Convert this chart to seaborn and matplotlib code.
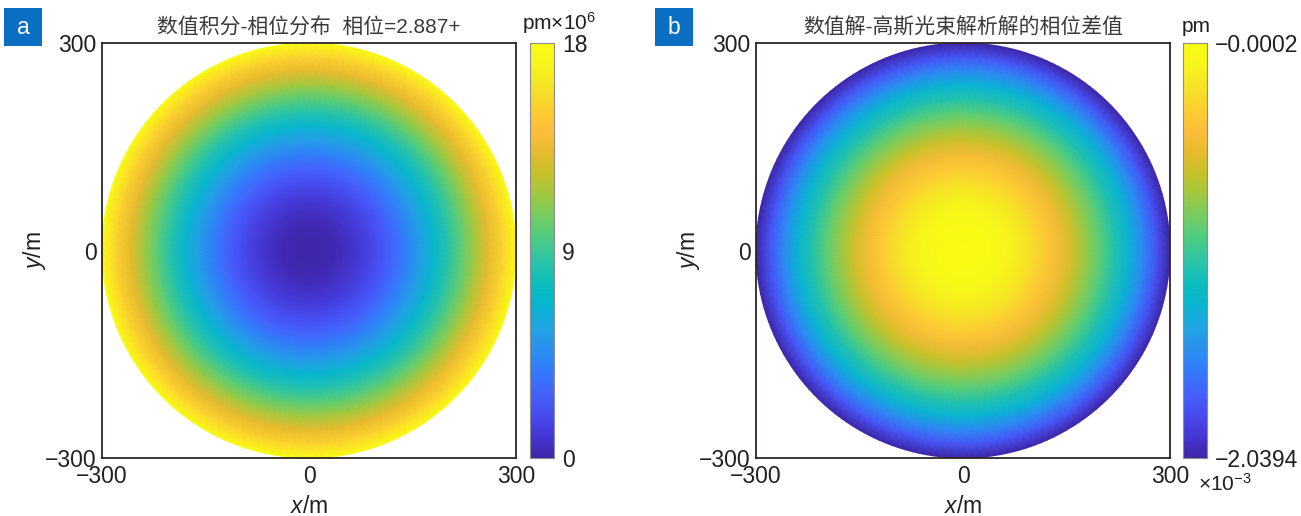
import numpy as np
import matplotlib
matplotlib.use("Agg")
import matplotlib.pyplot as plt
import seaborn as sns
from matplotlib.patches import Rectangle

# ring radii (m) and phase values
ring_radius = [0, 20, 40, 60, 80, 100, 120, 140, 160, 180, 200, 220, 240, 260, 280, 300]
phase_a = [0, 0.1, 0.33, 0.75, 1.3, 2.05, 2.95, 4.05, 5.35, 6.8, 8.3, 9.85,
           11.5, 13.3, 15.3, 18]                                        # pm x 1e6
phase_diff_b = [-0.0002, -0.010, -0.037, -0.092, -0.163, -0.255, -0.367, -0.490,
                -0.632, -0.785, -0.938, -1.112, -1.305, -1.540, -1.785, -2.0394]  # pm x 1e-3

axis_ticks = [-300, 0, 300]
cbar_ticks_a = [0, 9, 18]
cbar_labels_a = ["0", "9", "18"]
cbar_ticks_b = [-2.0394, -0.0002]
cbar_labels_b = ["\u22122.0394", "\u22120.0002"]
title_a = "数值积分-相位分布  相位=2.887+"
title_b = "数值解-高斯光束解析解的相位差值"

# parula-like colour anchors
parula_anchors = [
    (0.2422, 0.1504, 0.6603), (0.2706, 0.2147, 0.8364), (0.2813, 0.3006, 0.9414),
    (0.2699, 0.3892, 0.9906), (0.1963, 0.4847, 0.9892), (0.1687, 0.5703, 0.9359),
    (0.1248, 0.6459, 0.8883), (0.0297, 0.7082, 0.8163), (0.0433, 0.7411, 0.7394),
    (0.1717, 0.7670, 0.6554), (0.2906, 0.7973, 0.5188), (0.4456, 0.8024, 0.3909),
    (0.6174, 0.7876, 0.2612), (0.7738, 0.7598, 0.1646), (0.9035, 0.7330, 0.1774),
    (0.9956, 0.7434, 0.2371), (0.9892, 0.8136, 0.1885), (0.9610, 0.8890, 0.1537),
    (0.9691, 0.9606, 0.1064), (0.9769, 0.9839, 0.0805),
]

sns.set_theme(style="white")
parula = sns.blend_palette(parula_anchors, n_colors=256, as_cmap=True)

latin = ["Liberation Sans Narrow", "Liberation Sans", "DejaVu Sans"]
plt.rcParams["font.family"] = latin + ["Noto Sans CJK SC"]
plt.rcParams["mathtext.fontset"] = "custom"
plt.rcParams["mathtext.rm"] = "Liberation Sans"
plt.rcParams["mathtext.it"] = "Liberation Sans:italic"
plt.rcParams["axes.unicode_minus"] = True

W, H = 1301, 516
fig = plt.figure(figsize=(W / 100, H / 100), dpi=100)
fig.patch.set_facecolor("white")

text_color = "#231f20"
fs = 16.5


def px(x0, y0, w, h):
    return [x0 / W, 1 - (y0 + h) / H, w / W, h / H]


def draw_disk(ax, radius, values, vmin, vmax):
    theta = np.linspace(0, 2 * np.pi, 181)
    rr, tt = np.meshgrid(radius, theta)
    cc = np.tile(values, (len(theta), 1))
    return ax.pcolormesh(rr * np.cos(tt), rr * np.sin(tt), cc, shading="gouraud",
                         cmap=parula, vmin=vmin, vmax=vmax)


def style_axes(ax, title):
    ax.set_xlim(-300, 300)
    ax.set_ylim(-300, 300)
    ax.set_xticks(axis_ticks)
    ax.set_yticks(axis_ticks)
    ax.tick_params(length=0, labelsize=fs, colors=text_color, pad=4)
    ax.tick_params(axis="x", pad=5)
    for s in ax.spines.values():
        s.set_color("#2b2523")
        s.set_linewidth(1.3)
        s.set_visible(True)
    ax.set_xlabel("$x$/m", fontsize=fs, color=text_color, labelpad=5)
    ax.set_ylabel("$y$/m", fontsize=fs, color=text_color, labelpad=-2)
    ax.set_title(title, fontsize=15, color="#3a3a3a", pad=7)
    ax.set_facecolor("white")


def style_cbar(cax, mesh, ticks, labels):
    cb = fig.colorbar(mesh, cax=cax)
    cb.set_ticks(ticks)
    cb.set_ticklabels(labels)
    cax.tick_params(direction="in", length=3, width=0.8, labelsize=fs,
                    colors=text_color, pad=6)
    cb.outline.set_edgecolor("#8c8c8c")
    cb.outline.set_linewidth(0.8)
    return cb


# panel a
ax_a = fig.add_axes(px(102, 43, 414, 415))
mesh_a = draw_disk(ax_a, ring_radius, phase_a, 0, 18)
style_axes(ax_a, title_a)
cax_a = fig.add_axes(px(530, 43, 24, 415))
style_cbar(cax_a, mesh_a, cbar_ticks_a, cbar_labels_a)
fig.text(522 / W, 1 - 23 / H, "pm\u00d710$^{6}$", fontsize=15, color=text_color,
         ha="left", va="center")

# panel b
ax_b = fig.add_axes(px(756, 43, 414, 415))
mesh_b = draw_disk(ax_b, ring_radius, phase_diff_b, -2.0394, -0.0002)
style_axes(ax_b, title_b)
cax_b = fig.add_axes(px(1183, 43, 24, 415))
style_cbar(cax_b, mesh_b, cbar_ticks_b, cbar_labels_b)
fig.text(1196 / W, 1 - 26 / H, "pm", fontsize=15, color=text_color,
         ha="center", va="center")
fig.text(1198 / W, 1 - 484 / H, "\u00d710$^{\u22123}$", fontsize=15, color=text_color,
         ha="left", va="center")

# panel letters
for x0, letter in [(4, "a"), (655, "b")]:
    fig.patches.append(Rectangle((x0 / W, 1 - 46 / H), 38 / W, 38 / H,
                                 transform=fig.transFigure, facecolor="#0a6fc2",
                                 edgecolor="none"))
    fig.text((x0 + 19) / W, 1 - 27 / H, letter, fontsize=fs, color="white",
             ha="center", va="center")

fig.savefig("out.png", dpi=100)
